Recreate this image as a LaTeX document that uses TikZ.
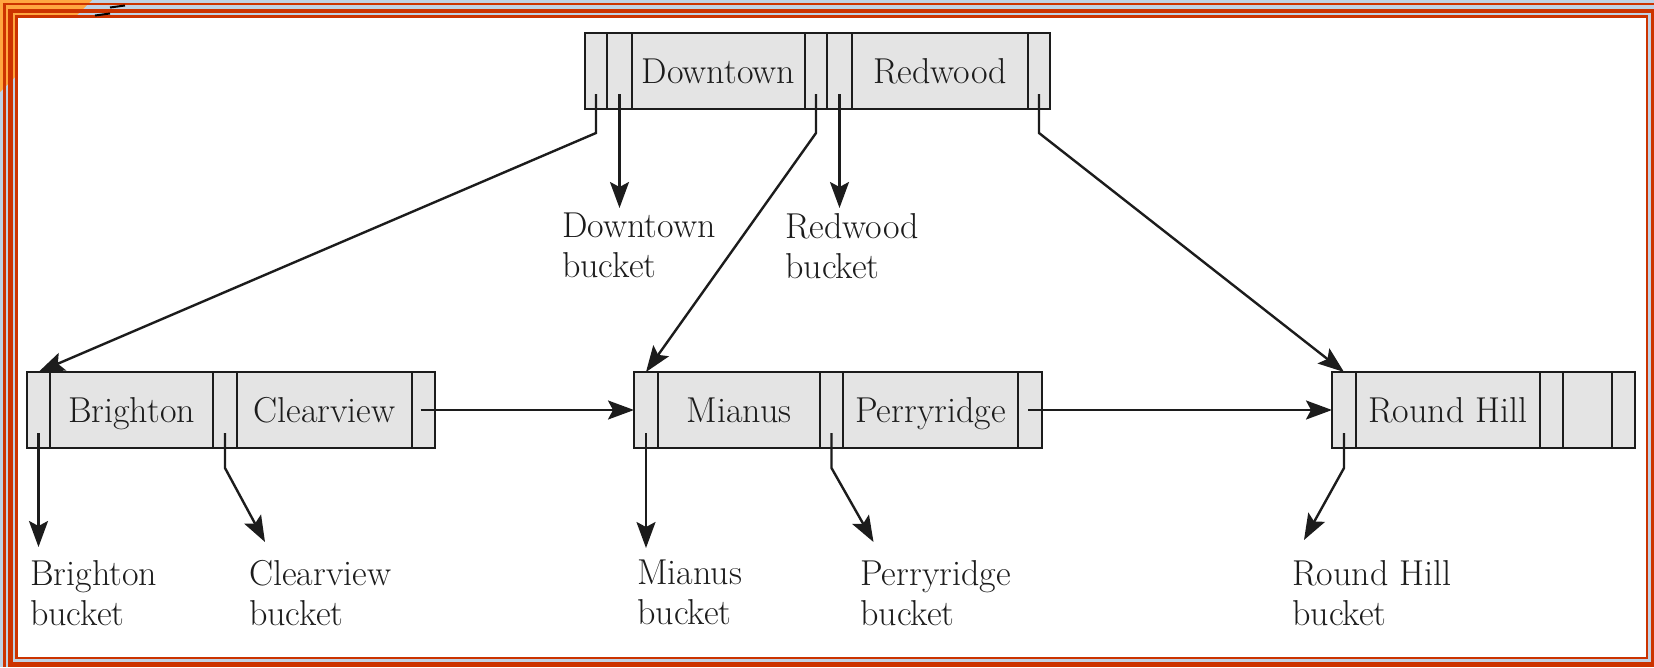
\documentclass[tikz,border=0pt]{standalone}
\usetikzlibrary{arrows.meta,calc}
\definecolor{framered}{RGB}{204,51,0}
\definecolor{frameorange}{RGB}{255,166,64}
\definecolor{framegap}{RGB}{192,210,228}
\definecolor{cellgray}{RGB}{228,228,228}
\definecolor{inkc}{RGB}{28,28,28}
\begin{document}
\begin{tikzpicture}[x=1pt,y=-1pt,
  cell/.style={draw=inkc, fill=cellgray, line width=2.4pt, minimum height=76pt,
    inner sep=0pt, outer sep=0pt, anchor=west, text height=25pt, text depth=0pt,
    font=\fontsize{36}{40}\selectfont, text=inkc},
  lbl/.style={anchor=north west, align=left, inner sep=0pt,
    font=\fontsize{36}{40}\selectfont, text=inkc},
  link/.style={draw=inkc, line width=2.4pt},
  arr/.style={link, -{Stealth[length=26pt,width=19pt,inset=5pt]}}
]
\useasboundingbox (0,0) rectangle (1654,667);
% slide frame
\fill[framegap] (0,0) rectangle (1654,667);
\fill[frameorange] (0,0) -- (92,0) -- (0,92) -- cycle;
\fill[framered] (3,3) rectangle (1654,5);
\fill[framered] (3,3) rectangle (6,667);
\fill[framered] (8,9) rectangle (1654,13);
\fill[framered] (8,9) rectangle (13,667);
\fill[framered] (1651,9) rectangle (1654,667);
\fill[framered] (8,662) rectangle (1654,667);
\fill[framered] (15,15) rectangle (1648,659);
\fill[white] (18,18) rectangle (1646,657);
\draw[black, line width=2pt] (110,7.5) -- (125,5.5);
\draw[black, line width=2pt] (95,15.5) -- (110,13.5);

% root node
\node[cell, minimum width=22pt] (t0) at (585,71) {};
\node[cell, minimum width=25pt] (t1) at (t0.east) {};
\node[cell, minimum width=173pt] (tk1) at (t1.east) {Downtown};
\node[cell, minimum width=22pt] (t2) at (tk1.east) {};
\node[cell, minimum width=25pt] (t3) at (t2.east) {};
\node[cell, minimum width=176pt] (tk2) at (t3.east) {Redwood};
\node[cell, minimum width=22pt] (t4) at (tk2.east) {};

% leaf 1
\node[cell, minimum width=23pt] (b0) at (27,410) {};
\node[cell, minimum width=163pt] (bk1) at (b0.east) {Brighton};
\node[cell, minimum width=24pt] (b1) at (bk1.east) {};
\node[cell, minimum width=175pt] (bk2) at (b1.east) {Clearview};
\node[cell, minimum width=23pt] (b2) at (bk2.east) {};

% leaf 2
\node[cell, minimum width=24pt] (m0) at (634,410) {};
\node[cell, minimum width=162pt] (mk1) at (m0.east) {Mianus};
\node[cell, minimum width=23pt] (m1) at (mk1.east) {};
\node[cell, minimum width=175pt] (mk2) at (m1.east) {Perryridge};
\node[cell, minimum width=24pt] (m2) at (mk2.east) {};

% leaf 3
\node[cell, minimum width=24pt] (r0) at (1332,410) {};
\node[cell, minimum width=184pt] (rk1) at (r0.east) {Round Hill};
\node[cell, minimum width=23pt] (r1) at (rk1.east) {};
\node[cell, minimum width=49pt] (rk2) at (r1.east) {};
\node[cell, minimum width=23pt] (r2) at (rk2.east) {};

% bucket labels
\node[lbl] (dtb) at (562,213) {Downtown\\bucket};
\node[lbl] (rwb) at (785,213) {Redwood\\bucket};
\node[lbl] (brb) at (30,560) {Brighton\\bucket};
\node[lbl] (clb) at (249,560) {Clearview\\bucket};
\node[lbl] (mib) at (637,560) {Mianus\\bucket};
\node[lbl] (peb) at (860,560) {Perryridge\\bucket};
\node[lbl] (rhb) at (1292,560) {Round Hill\\bucket};

% root pointers
\draw[arr] ([yshift=15pt]t0.south) -- ++(0,39) -- (b0.north);
\draw[arr] ([yshift=15pt]t1.south) -- ([yshift=-99pt]t1.south);
\draw[arr] ([yshift=15pt]t2.south) -- ++(0,39) -- (m0.north);
\draw[arr] ([yshift=15pt]t3.south) -- ([yshift=-99pt]t3.south);
\draw[arr] ([yshift=15pt]t4.south) -- ++(0,39) -- (r0.north);

% sibling pointers
\draw[arr] ([xshift=-3pt]b2.center) -- (m0.west);
\draw[arr] ([xshift=-2pt]m2.center) -- (r0.west);

% bucket pointers
\draw[arr] ([yshift=15pt]b0.south) -- ([yshift=-99pt]b0.south);
\draw[arr] ([yshift=15pt]b1.south) -- ++(0,35) -- ++(40,74);
\draw[arr] ([yshift=15pt]m0.south) -- ([yshift=-100pt]m0.south);
\draw[arr] ([yshift=15pt]m1.south) -- ++(0,35) -- ++(42,74);
\draw[arr] ([yshift=15pt]r0.south) -- ++(0,35) -- ++(-40,72);
\end{tikzpicture}
\end{document}
